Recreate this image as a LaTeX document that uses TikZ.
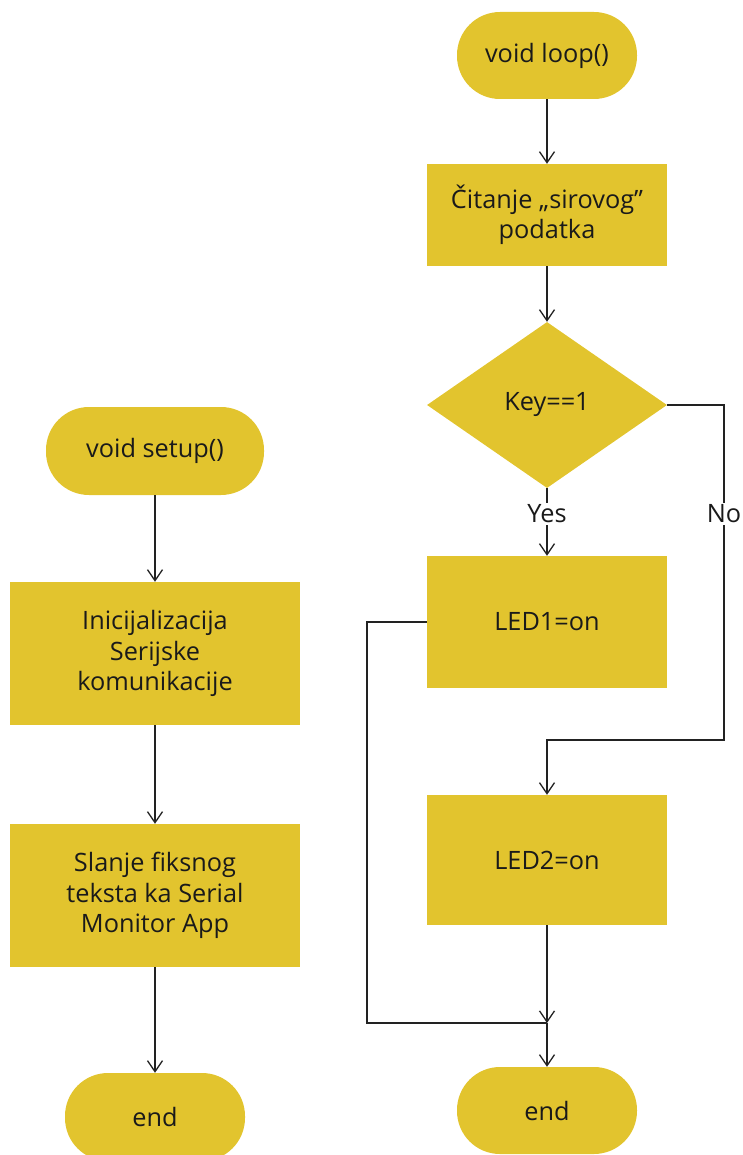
\documentclass[tikz,border=0pt]{standalone}
\usepackage{fontspec}
\setmainfont{Open Sans}
\usetikzlibrary{shapes.geometric,arrows.meta}
\definecolor{boxfill}{HTML}{E2C42E}
\definecolor{ink}{HTML}{1A1A1A}
\definecolor{wire}{HTML}{222222}
\begin{document}
\begin{tikzpicture}[x=1pt,y=-1pt,
  every node/.style={font=\fontsize{25.3}{30.5}\selectfont, text=ink, align=center, inner sep=0pt},
  term/.style={rectangle, fill=boxfill, rounded corners=43pt, minimum width=#1, minimum height=87pt},
  proc/.style={rectangle, fill=boxfill, minimum width=240pt},
  lproc/.style={rectangle, fill=boxfill, minimum width=290pt, minimum height=143pt},
  dec/.style={diamond, fill=boxfill, minimum width=240pt, minimum height=166pt, aspect=1.45},
  wirestyle/.style={draw=wire, line width=1.3pt},
  arr/.style={wirestyle, -{Straight Barb[length=11pt,width=15pt,line width=1.3pt]}},
  lbl/.style={fill=white, inner sep=2pt}
]
\clip (0,0) rectangle (742,1155);
\useasboundingbox (0,0) rectangle (742,1155);
% left column
\node[term=218pt, minimum height=88pt] (setup) at (155,451) {void setup()};
\node[lproc] (init) at (155,653.5) {Inicijalizacija\\Serijske\\komunikacije};
\node[lproc] (send) at (155,895.5) {Slanje fiksnog\\teksta ka Serial\\Monitor App};
\node[term=180pt, minimum height=88pt] (endl) at (155,1117) {end};
\draw[arr] (setup.south) -- (init.north);
\draw[arr] (init.south) -- (send.north);
\draw[arr] (send.south) -- (endl.north);
% right column
\node[term=180pt] (loop) at (547,55.5) {void loop()};
\node[proc, minimum height=102pt] (read) at (547,215) {Čitanje „sirovog”\\podatka};
\node[dec] (key) at (547,405) {Key==1};
\node[proc, minimum height=132pt] (led1) at (547,622) {LED1=on};
\node[proc, minimum height=130pt] (led2) at (547,860) {LED2=on};
\node[term=180pt] (endr) at (547,1110.5) {end};
\coordinate (nA) at (724,405);
\coordinate (nB) at (724,740);
\coordinate (nC) at (547,740);
\coordinate (yA) at (367,622);
\coordinate (yB) at (367,1023);
\coordinate (join) at (547,1023);
\draw[arr] (loop.south) -- (read.north);
\draw[arr] (read.south) -- (key.north);
\draw[arr] (key.south) -- (led1.north);
\node[lbl] (yes) at (547,514) {Yes};
\draw[arr] (key.east) -- (nA) -- (nB) -- (nC) -- (led2.north);
\node[lbl] (no) at (724,514) {No};
\draw[wirestyle] (led1.west) -- (yA) -- (yB) -- (join);
\draw[arr] (led2.south) -- (join);
\draw[arr] (join) -- (endr.north);
\end{tikzpicture}
\end{document}
